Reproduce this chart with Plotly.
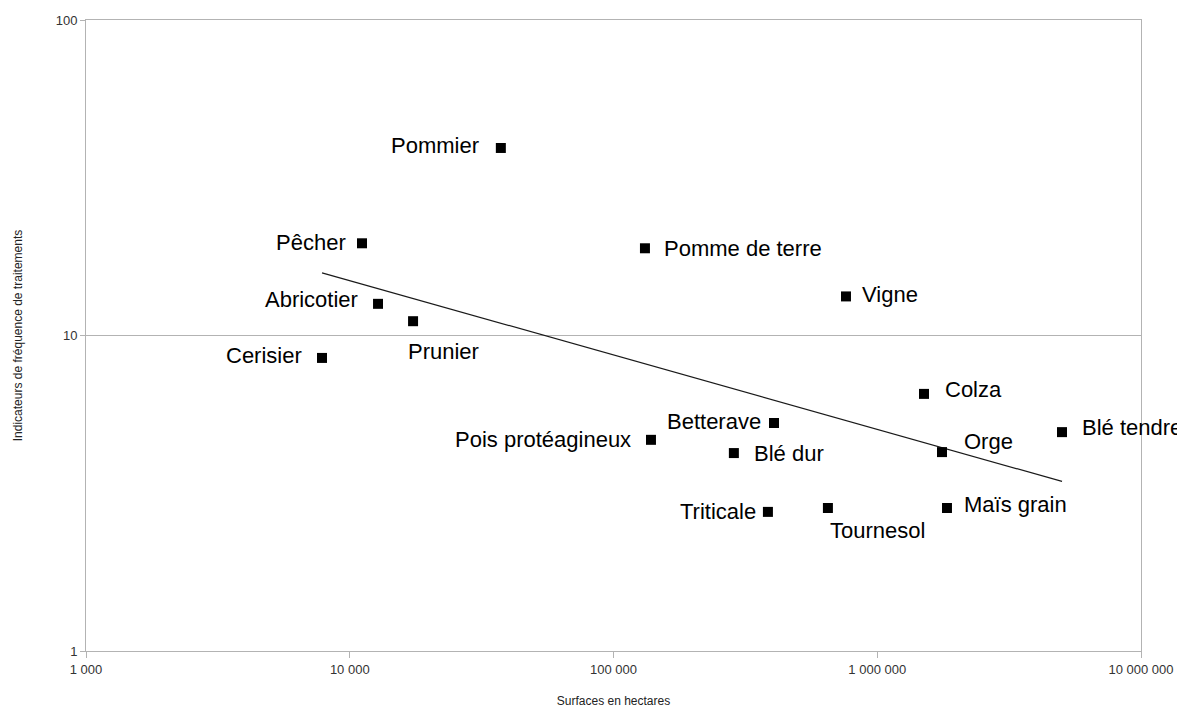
import numpy as np
import plotly.graph_objects as go

# ---- data ----
cultures = ["Pommier", "Pêcher", "Pomme de terre", "Vigne", "Abricotier", "Prunier",
            "Cerisier", "Colza", "Betterave", "Blé tendre", "Pois protéagineux",
            "Blé dur", "Orge", "Tournesol", "Maïs grain", "Triticale"]
surfaces = [37400, 11130, 131600, 761000, 12800, 17380,
            7850, 1504000, 406000, 5018000, 138700,
            286000, 1760000, 650000, 1838000, 385000]
ift = [39.3, 19.6, 18.9, 13.3, 12.6, 11.1,
       8.49, 6.53, 5.28, 4.94, 4.67,
       4.24, 4.27, 2.84, 2.84, 2.76]

x_tickvals = [1000, 10000, 100000, 1000000, 10000000]
x_ticktext = ["1 000", "10 000", "100 000", "1 000 000", "10 000 000"]
y_tickvals = [1, 10, 100]
y_ticktext = ["1", "10", "100"]

# label placement (style): anchor, xshift, yshift
label_style = {
    "Pommier": ("right", -20, 2),
    "Pêcher": ("right", -14, 1),
    "Pomme de terre": ("left", 17, 0),
    "Vigne": ("left", 14, 2),
    "Abricotier": ("right", -18, 4),
    "Prunier": ("left", -7, -30),
    "Cerisier": ("right", -18, 2),
    "Colza": ("left", 19, 4),
    "Betterave": ("right", -11, 2),
    "Blé tendre": ("left", 18, 5),
    "Pois protéagineux": ("right", -18, 0),
    "Blé dur": ("left", 18, 0),
    "Orge": ("left", 20, 11),
    "Tournesol": ("left", 0, -23),
    "Maïs grain": ("left", 15, 3),
    "Triticale": ("right", -10, 0),
}

# power regression trend line (log-log least squares)
lx = np.log10(surfaces)
ly = np.log10(ift)
slope, intercept = np.polyfit(lx, ly, 1)
tx = np.array([min(surfaces), max(surfaces)])
ty = 10 ** (intercept + slope * np.log10(tx))

fig = go.Figure()
fig.add_trace(go.Scatter(x=tx, y=ty, mode="lines",
                         line=dict(color="#1a1a1a", width=1.2),
                         hoverinfo="skip", showlegend=False))
fig.add_trace(go.Scatter(x=surfaces, y=ift, mode="markers",
                         marker=dict(symbol="square", size=10, color="black"),
                         text=cultures, showlegend=False))

for name, xv, yv in zip(cultures, surfaces, ift):
    anc, xs, ys = label_style[name]
    fig.add_annotation(x=np.log10(xv), y=np.log10(yv), text=name, showarrow=False,
                       xanchor=anc, yanchor="middle", xshift=xs, yshift=ys,
                       font=dict(family="Liberation Sans, Arial, sans-serif", size=22, color="black"))

axis_font = dict(family="Liberation Sans, Arial, sans-serif", size=12, color="#333333")
fig.update_layout(
    width=1177, height=701,
    margin=dict(l=78, r=44, t=12, b=58),
    paper_bgcolor="white", plot_bgcolor="white",
    font=axis_font,
    xaxis=dict(type="log", range=[3, 7], tickvals=x_tickvals, ticktext=x_ticktext,
               automargin=False,
               showgrid=False, zeroline=False,
               showline=True, linecolor="#b3b3b3", linewidth=1, mirror=True,
               ticks="outside", ticklen=6, tickcolor="#b3b3b3",
               tickfont=dict(family="Liberation Sans, Arial, sans-serif", size=13, color="#333333"),
               title=dict(text="Surfaces en hectares", standoff=21,
                          font=dict(family="Liberation Sans, Arial, sans-serif", size=12, color="#222222"))),
    yaxis=dict(type="log", range=[0, 2], tickvals=y_tickvals, ticktext=y_ticktext,
               automargin=False,
               showgrid=True, gridcolor="#b3b3b3", gridwidth=1, zeroline=False,
               showline=True, linecolor="#b3b3b3", linewidth=1, mirror=True,
               ticks="outside", ticklen=5, tickcolor="#b3b3b3",
               tickfont=dict(family="Liberation Sans, Arial, sans-serif", size=13, color="#333333"),
               title=dict(text="Indicateurs de fréquence de traitements", standoff=30,
                          font=dict(family="Liberation Sans, Arial, sans-serif", size=12, color="#222222"))),
)

fig.write_html("out.html")
